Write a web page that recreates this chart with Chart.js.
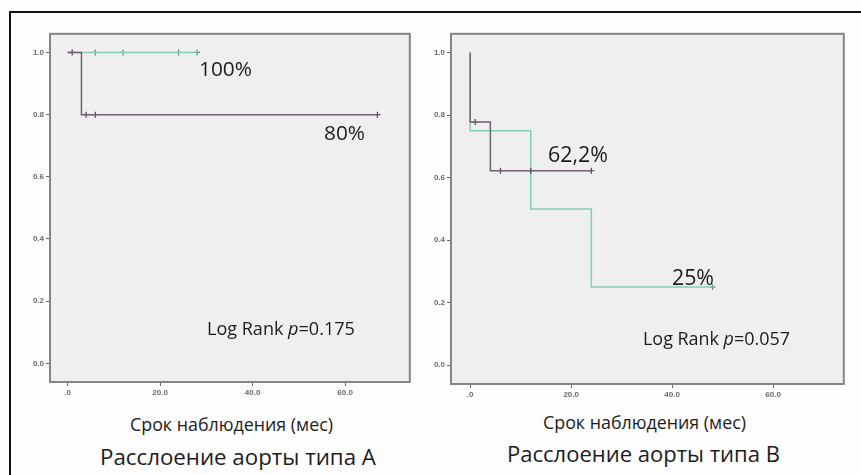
<!DOCTYPE html>
<html lang="ru">
<head>
<meta charset="UTF-8">
<title>Выживаемость</title>
<script src="https://cdn.jsdelivr.net/npm/chart.js@4.4.1/dist/chart.umd.min.js"></script>
<style>
    body { margin: 0; background: #fdfdfd; width: 861px; height: 475px; overflow: hidden; position: relative; font-family: "Open Sans", sans-serif; }
    .frame { position: absolute; left: 9px; top: 11px; width: 900px; height: 500px; border-left: 2px solid #111; border-top: 2px solid #111; }
    canvas { position: absolute; }
    .lbl { position: absolute; white-space: nowrap; color: #1c1c1c; line-height: 1; transform: translateY(-50%); }
</style>
</head>
<body>
<div class="frame"></div>
<canvas id="chartA" width="395" height="373" style="left:20px; top:27px;"></canvas>
<canvas id="chartB" width="428" height="375" style="left:421px; top:27px;"></canvas>

<div class="lbl" data-w="53" style="left:199px; top:68px;">100%</div>
<div class="lbl" data-w="41" style="left:324px; top:132px;">80%</div>
<div class="lbl" data-w="148" style="left:207px; top:328px;">Log Rank <i>p</i>=0.175</div>
<div class="lbl" data-w="203" style="left:130px; top:425px;">Срок наблюдения (мес)</div>
<div class="lbl" data-w="276" style="left:100px; top:457px;">Расслоение аорты типа А</div>

<div class="lbl" data-w="60" style="left:548px; top:154px;">62,2%</div>
<div class="lbl" data-w="42" style="left:672px; top:277px;">25%</div>
<div class="lbl" data-w="147" style="left:643px; top:339px;">Log Rank <i>p</i>=0.057</div>
<div class="lbl" data-w="203" style="left:543px; top:423px;">Срок наблюдения (мес)</div>
<div class="lbl" data-w="273" style="left:507px; top:453px;">Расслоение аорты типа В</div>

<script>
    // axis ticks
    const xTicks = [0, 20, 40, 60];
    const xTickLabels = [".0", "20.0", "40.0", "60.0"];
    const yTicks = [0, 0.2, 0.4, 0.6, 0.8, 1.0];
    const yTickLabels = ["0.0", "0.2", "0.4", "0.6", "0.8", "1.0"];

    // type A: months / cumulative survival
    const aTimeGrp1 = [0, 3, 67];
    const aSurvGrp1 = [1, 0.8, 0.8];
    const aCensTimeGrp1 = [1, 4, 6, 67];
    const aCensSurvGrp1 = [1, 0.8, 0.8, 0.8];
    const aTimeGrp2 = [0, 28];
    const aSurvGrp2 = [1, 1];
    const aCensTimeGrp2 = [6, 12, 24, 28];
    const aCensSurvGrp2 = [1, 1, 1, 1];

    // type B
    const bTimeGrp1 = [0, 0, 4, 24];
    const bSurvGrp1 = [1, 0.778, 0.622, 0.622];
    const bCensTimeGrp1 = [1, 6, 12, 24];
    const bCensSurvGrp1 = [0.778, 0.622, 0.622, 0.622];
    const bTimeGrp2 = [0, 0, 12, 24, 48];
    const bSurvGrp2 = [1, 0.75, 0.5, 0.25, 0.25];
    const bCensTimeGrp2 = [48];
    const bCensSurvGrp2 = [0.25];

    const purple = "#735f74";
    const teal = "#86cdb8";

    function pts(t, s) {
        return t.map((v, i) => ({ x: v, y: s[i] }));
    }

    function curve(t, s, color) {
        return { data: pts(t, s), showLine: true, stepped: "before", borderColor: color, borderWidth: 1.5, pointRadius: 0, fill: false };
    }

    function cens(t, s, color) {
        return { data: pts(t, s), showLine: false, pointStyle: "cross", pointRadius: 3, borderColor: color, borderWidth: 1.2 };
    }

    const boxPlugin = {
        id: "box",
        beforeDatasetsDraw(chart) {
            const a = chart.chartArea, ctx = chart.ctx;
            ctx.save();
            ctx.fillStyle = "#efefef";
            ctx.fillRect(a.left, a.top, a.right - a.left, a.bottom - a.top);
            ctx.restore();
        },
        afterDraw(chart) {
            const a = chart.chartArea, ctx = chart.ctx;
            ctx.save();
            ctx.strokeStyle = "#858585";
            ctx.lineWidth = 2;
            ctx.strokeRect(a.left, a.top, a.right - a.left, a.bottom - a.top);
            ctx.restore();
        }
    };

    const tickFont = { family: "Liberation Sans", size: 8, weight: "bold" };

    function makeChart(id, datasets) {
        return new Chart(document.getElementById(id), {
            type: "scatter",
            data: { datasets: datasets },
            plugins: [boxPlugin],
            options: {
                responsive: false,
                animation: false,
                layout: { padding: { top: 5, right: 5, left: 0, bottom: 0 } },
                plugins: { legend: { display: false }, tooltip: { enabled: false } },
                scales: {
                    x: {
                        type: "linear", min: -3.8, max: 74,
                        afterBuildTicks: s => { s.ticks = xTicks.map(v => ({ value: v })); },
                        afterFit: s => { s.height = 18; },
                        ticks: { callback: (v, i) => xTickLabels[i], font: tickFont, color: "#6a6a6a", padding: 2, maxRotation: 0, autoSkip: false },
                        grid: { drawOnChartArea: false, drawTicks: true, tickLength: 4, color: "#666" },
                        border: { display: false }
                    },
                    y: {
                        type: "linear", min: -0.06, max: 1.06,
                        afterBuildTicks: s => { s.ticks = yTicks.map(v => ({ value: v })); },
                        afterFit: s => { s.width = 30; },
                        ticks: { callback: (v, i) => yTickLabels[i], font: tickFont, color: "#6a6a6a", padding: 2, autoSkip: false },
                        grid: { drawOnChartArea: false, drawTicks: true, tickLength: 4, color: "#666" },
                        border: { display: false }
                    }
                }
            }
        });
    }

    makeChart("chartA", [
        curve(aTimeGrp1, aSurvGrp1, purple),
        cens(aCensTimeGrp1, aCensSurvGrp1, "#4f434f"),
        curve(aTimeGrp2, aSurvGrp2, teal),
        cens(aCensTimeGrp2, aCensSurvGrp2, "#5f8f80")
    ]);

    makeChart("chartB", [
        curve(bTimeGrp1, bSurvGrp1, purple),
        cens(bCensTimeGrp1, bCensSurvGrp1, "#4f434f"),
        curve(bTimeGrp2, bSurvGrp2, teal),
        cens(bCensTimeGrp2, bCensSurvGrp2, "#5f8f80")
    ]);

    // size the text labels to the widths they have in the original
    document.querySelectorAll(".lbl").forEach(el => {
        el.style.fontSize = "20px";
        const w = el.getBoundingClientRect().width;
        el.style.fontSize = (20 * Number(el.dataset.w) / w).toFixed(2) + "px";
    });
</script>
</body>
</html>
